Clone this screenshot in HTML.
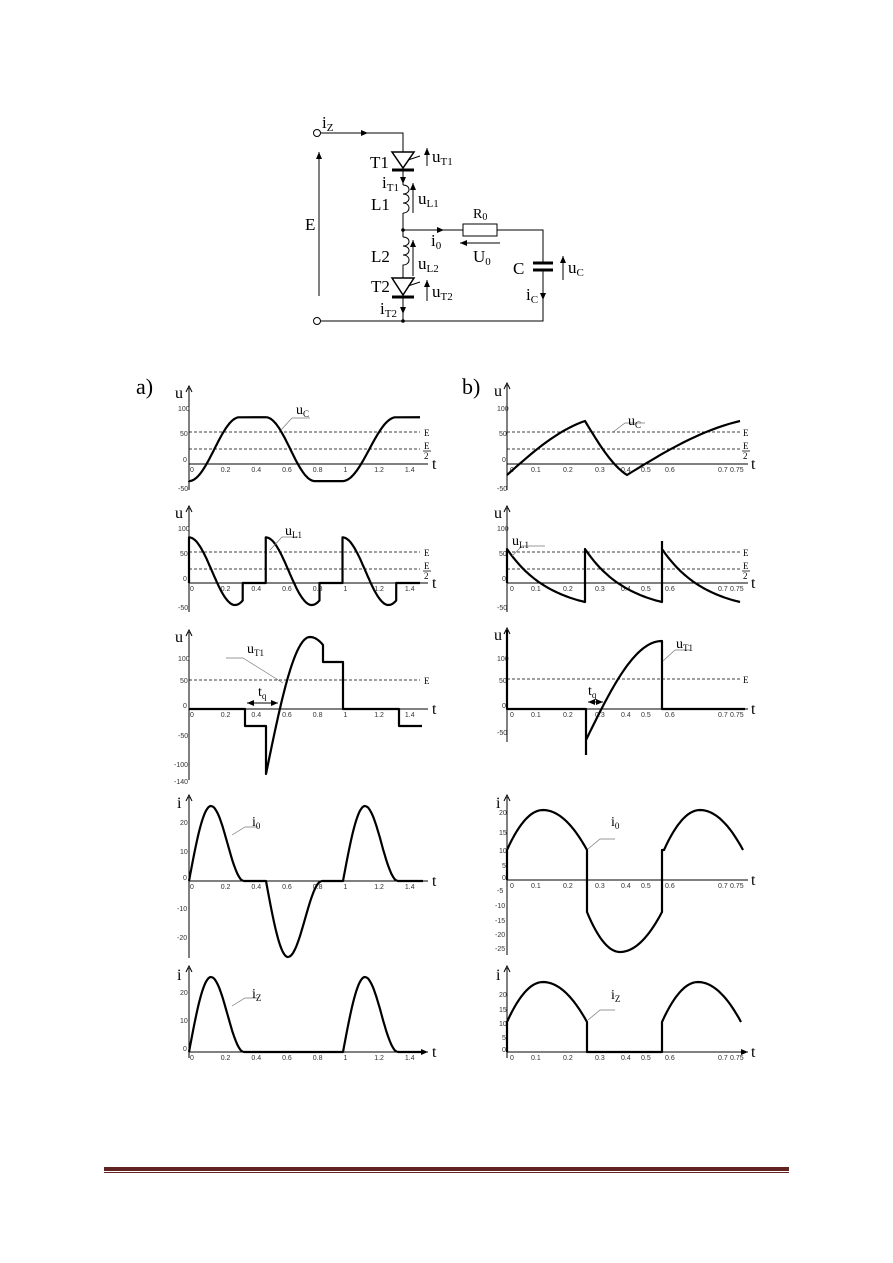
<!DOCTYPE html>
<html><head><meta charset="utf-8"><style>
html,body{margin:0;padding:0;background:#fff;}
svg{display:block;}
text{font-family:"Liberation Serif",serif;fill:#000;}
.s{font-family:"Liberation Sans",sans-serif;font-size:7px;fill:#333;}
.c{fill:none;stroke:#000;stroke-width:2.2;stroke-linejoin:round;}
.a{stroke:#000;stroke-width:1;fill:none;}
.d{stroke:#000;stroke-width:0.8;stroke-dasharray:3,2;fill:none;}
.l{stroke:#777;stroke-width:0.7;fill:none;}
</style></head><body>
<svg id="g" width="893" height="1263" viewBox="0 0 893 1263" xmlns="http://www.w3.org/2000/svg">
<defs><marker id="ar" markerWidth="8" markerHeight="8" refX="7" refY="3" orient="auto" markerUnits="userSpaceOnUse"><path d="M0,0 L7,3 L0,6 z" fill="#000"/></marker></defs>
<!-- circuit -->
<g class="a" stroke-width="1.2">
<circle cx="317" cy="133" r="3.5" fill="#fff"/>
<circle cx="317" cy="321" r="3.5" fill="#fff"/>
<path d="M321,133 H403 V152 M403,170 V185 M403,213 V237 M403,272 V278 M403,297 V321 M321,321 H543 V270 M543,263 V230 H497 M463,230 H403"/>
<path d="M403,185 c8,0 8,9 0,9 c8,0 8,9 0,9 c8,0 8,10 0,10" />
<path d="M403,237 c8,0 8,9 0,9 c8,0 8,9 0,9 c8,0 8,10 0,10 V272" />
<path d="M392,152 H414 L403,168 Z" stroke-width="1.5"/>
<path d="M408,160 L420,156"/>
<path d="M392,278 H414 L403,295 Z" stroke-width="1.5"/>
<path d="M408,286 L420,282"/>
<rect x="463" y="224" width="34" height="12"/>
</g>
<path d="M392,170 H414 M392,297 H414 M533,263 H553 M533,270 H553" stroke="#000" stroke-width="3"/>
<circle cx="403" cy="230" r="1.8"/><circle cx="403" cy="321" r="1.8"/>
<g class="a">
<path d="M355,133 H368" marker-end="url(#ar)"/>
<path d="M403,176 V184" marker-end="url(#ar)"/>
<path d="M403,306 V314" marker-end="url(#ar)"/>
<path d="M430,230 H444" marker-end="url(#ar)"/>
<path d="M543,290 V300" marker-end="url(#ar)"/>
<path d="M500,243 H460" marker-end="url(#ar)"/>
<path d="M319,296 V152" marker-end="url(#ar)"/>
<path d="M427,166 V148" marker-end="url(#ar)"/>
<path d="M413,213 V183" marker-end="url(#ar)"/>
<path d="M413,276 V240" marker-end="url(#ar)"/>
<path d="M427,301 V280" marker-end="url(#ar)"/>
<path d="M563,280 V256" marker-end="url(#ar)"/>
</g>
<g font-size="17">
<text x="322" y="128">i<tspan font-size="11" dy="3">Z</tspan></text>
<text x="370" y="168">T1</text>
<text x="432" y="162">u<tspan font-size="11" dy="3">T1</tspan></text>
<text x="382" y="188">i<tspan font-size="11" dy="3">T1</tspan></text>
<text x="371" y="210">L1</text>
<text x="418" y="204">u<tspan font-size="11" dy="3">L1</tspan></text>
<text x="473" y="218" font-size="14">R<tspan font-size="10" dy="2">0</tspan></text>
<text x="431" y="246">i<tspan font-size="11" dy="3">0</tspan></text>
<text x="473" y="262">U<tspan font-size="11" dy="3">0</tspan></text>
<text x="305" y="230">E</text>
<text x="371" y="262">L2</text>
<text x="418" y="269">u<tspan font-size="11" dy="3">L2</tspan></text>
<text x="513" y="274">C</text>
<text x="568" y="273">u<tspan font-size="11" dy="3">C</tspan></text>
<text x="371" y="292">T2</text>
<text x="432" y="297">u<tspan font-size="11" dy="3">T2</tspan></text>
<text x="526" y="300">i<tspan font-size="11" dy="3">C</tspan></text>
<text x="380" y="314">i<tspan font-size="11" dy="3">T2</tspan></text>
</g>
<text x="136" y="394" font-size="22">a)</text>
<text x="462" y="394" font-size="22">b)</text>
<!-- axes -->
<g class="a">
<path d="M189,490 V388 M189,612 V508 M189,780 V632 M189,958 V797 M189,1058 V968"/>
<path d="M507,490 V385 M507,612 V508 M507,742 V630 M507,955 V797 M507,1058 V968"/>
<path d="M189,464 H428 M189,583 H428 M189,709 H428 M189,881 H428 M189,1052 H428" marker-end="url(#ar)"/>
<path d="M507,464 H748 M507,583 H748 M507,709 H748 M507,880 H748 M507,1052 H748" marker-end="url(#ar)"/>
<path d="M186,392 L189,386 L192,392 M186,512 L189,506 L192,512 M186,636 L189,630 L192,636 M186,801 L189,795 L192,801 M186,972 L189,966 L192,972"/>
<path d="M504,389 L507,383 L510,389 M504,512 L507,506 L510,512 M504,634 L507,628 L510,634 M504,801 L507,795 L510,801 M504,972 L507,966 L510,972"/>
</g>
<g font-size="16">
<text x="432" y="469">t</text><text x="432" y="588">t</text><text x="432" y="714">t</text><text x="432" y="886">t</text><text x="432" y="1057">t</text>
<text x="751" y="469">t</text><text x="751" y="588">t</text><text x="751" y="714">t</text><text x="751" y="885">t</text><text x="751" y="1057">t</text>
<text x="175" y="398">u</text><text x="175" y="518">u</text><text x="175" y="642">u</text><text x="177" y="808">i</text><text x="177" y="980">i</text>
<text x="494" y="396">u</text><text x="494" y="518">u</text><text x="494" y="640">u</text><text x="496" y="808">i</text><text x="496" y="980">i</text>
</g>
<g class="d">
<path d="M189,432 H420 M189,449 H420 M189,552 H420 M189,569 H420 M189,680 H420"/>
<path d="M507,432 H740 M507,449 H740 M507,552 H740 M507,569 H740 M507,679 H740"/>
</g>
<g font-size="9">
<text x="424" y="436">E</text><text x="424" y="556">E</text><text x="424" y="684">E</text>
<text x="743" y="436">E</text><text x="743" y="556">E</text><text x="743" y="683">E</text>
<text x="424" y="449">E</text><text x="424" y="459">2</text><text x="424" y="569">E</text><text x="424" y="579">2</text>
<text x="743" y="449">E</text><text x="743" y="459">2</text><text x="743" y="569">E</text><text x="743" y="579">2</text>
</g>
<path d="M423,451 H431 M423,571 H431 M742,451 H750 M742,571 H750" stroke="#000" stroke-width="0.7"/>
<g id="ticks" class="s"></g>
<g id="curves"></g>
<g class="l">
<path d="M281,430 L292,418 H310 M270,550 L282,537 H298 M243,658 L283,683 M243,658 H226 M232,835 L245,827 H258 M232,1006 L245,998 H258"/>
<path d="M613,432 L625,423 H645 M512,556 L522,546 H545 M663,661 L675,650 H690 M588,849 L600,839 H615 M588,1020 L600,1010 H615"/>
</g>
<g class="a"><path d="M250,703 H278" marker-end="url(#ar)"/><path d="M275,703 H247" marker-end="url(#ar)"/>
<path d="M590,702 H603" marker-end="url(#ar)"/><path d="M600,702 H588" marker-end="url(#ar)"/></g>
<g font-size="14">
<text x="296" y="414">u<tspan font-size="9" dy="3">C</tspan></text>
<text x="285" y="535">u<tspan font-size="9" dy="3">L1</tspan></text>
<text x="247" y="653">u<tspan font-size="9" dy="3">T1</tspan></text>
<text x="258" y="696">t<tspan font-size="9" dy="3">q</tspan></text>
<text x="252" y="826">i<tspan font-size="9" dy="3">0</tspan></text>
<text x="252" y="998">i<tspan font-size="9" dy="3">Z</tspan></text>
<text x="628" y="425">u<tspan font-size="9" dy="3">C</tspan></text>
<text x="512" y="545">u<tspan font-size="9" dy="3">L1</tspan></text>
<text x="676" y="648">u<tspan font-size="9" dy="3">T1</tspan></text>
<text x="588" y="695">t<tspan font-size="9" dy="3">q</tspan></text>
<text x="611" y="826">i<tspan font-size="9" dy="3">0</tspan></text>
<text x="611" y="999">i<tspan font-size="9" dy="3">Z</tspan></text>
</g>
<rect x="104" y="1167" width="685" height="4" fill="#622423"/>
<rect x="104" y="1172" width="685" height="1" fill="#622423"/>
</svg>
<script>
(function(){
var NS="http://www.w3.org/2000/svg",cg=document.getElementById("curves"),tg=document.getElementById("ticks");
function path(d){var p=document.createElementNS(NS,"path");p.setAttribute("d",d);p.setAttribute("class","c");cg.appendChild(p);}
function txt(x,y,s){var t=document.createElementNS(NS,"text");t.setAttribute("x",x);t.setAttribute("y",y);t.setAttribute("class","s");t.textContent=s;tg.appendChild(t);}
function fn(x0,x1,f,n){var s="";n=n||40;for(var i=0;i<=n;i++){var x=x0+(x1-x0)*i/n;s+=" L"+x.toFixed(1)+","+f(x).toFixed(1);}return s;}
function X(t){return 189+153.5*t;}
// a1
var y0=464,k=0.55,lo=-31,hi=85;
function rise(a,b){return function(x){var s=(x-a)/(b-a);return y0-k*(lo+(hi-lo)*(1-Math.cos(Math.PI*s))/2);};}
function fall(a,b){return function(x){var s=(x-a)/(b-a);return y0-k*(hi-(hi-lo)*(1-Math.cos(Math.PI*s))/2);};}
var yH=y0-k*hi,yL=y0-k*lo;
path("M189,"+yL+fn(189,X(0.33),rise(189,X(0.33)))+" L"+X(0.5)+","+yH+fn(X(0.5),X(0.82),fall(X(0.5),X(0.82)))+" L"+X(1)+","+yL+fn(X(1),X(1.35),rise(X(1),X(1.35)))+" L420,"+yH);
// a2
y0=583;var d="M189,583";
[0,0.5,1].forEach(function(t0){var xa=X(t0);d+=" L"+xa+","+(y0-k*83);
 d+=fn(xa,X(t0+0.35),function(x){var tau=(x-xa)/153.5;return y0-k*(21.5+61.5*Math.cos(Math.PI*tau/0.3));});
 d+=" L"+X(t0+0.35)+",583 L"+(t0<1?X(t0+0.5):420)+",583";});
path(d);
// a3
d="M189,709 L245,709 L245,726 L266,726 L266,774"+fn(266,310,function(x){var s=(x-266)/44;return 774-137*Math.sin(Math.PI/2*s);})+fn(310,323,function(x){var s=(x-310)/13;return 637+8*s*s;},8)+" L323,662 L343,662 L343,709 L399,709 L399,726 L422,726";
path(d);
// arcs
function arc(xa,xp,xb,yb,yp,ye){return fn(xa,xp,function(x){var s=(x-xa)/(xp-xa);return yb+(yp-yb)*Math.sin(Math.PI/2*s);},20)+fn(xp,xb,function(x){var s=(x-xp)/(xb-xp);return yp+(ye-yp)*(1-Math.cos(Math.PI*s))/2;},20);}
path("M189,881"+arc(189,211,244,881,806,881)+" L266,881"+arc(266,288,322,881,957,881)+" L343,881"+arc(343,365,398,881,806,881)+" L423,881");
path("M189,1052"+arc(189,211,244,1052,977,1052)+" L343,1052"+arc(343,365,398,1052,977,1052)+" L423,1052");
// b1
function mix(xa,xb,ya,yb){return fn(xa,xb,function(x){var s=(x-xa)/(xb-xa);return ya+(yb-ya)*(0.5*s+0.5*Math.sin(Math.PI/2*s));},20);}
path("M507,475"+mix(507,585,475,421)+mix(585,627,421,475)+mix(627,740,475,421));
// b2
function dec(xa,xb){return fn(xa,xb,function(x){var s=(x-xa)/(xb-xa);return 549+53*(1-Math.exp(-1.8*s))/(1-Math.exp(-1.8));},25);}
path("M507,583 L507,549"+dec(507,585)+" L585,549"+dec(585,662)+" L662,541 M662,549"+dec(662,740));
// b3
path("M507,630 L507,709 L586,709 L586,755 M586,740"+fn(586,662,function(x){var s=(x-586)/76;return 740-99*Math.sin(Math.PI/2*s);})+" L662,709 L745,709");
// b4
function par(xa,xp,xb,ya,yp,ye){return fn(xa,xp,function(x){var s=(xp-x)/(xp-xa);return yp+(ya-yp)*s*s;},15)+fn(xp,xb,function(x){var s=(x-xp)/(xb-xp);return yp+(ye-yp)*s*s;},20);}
path("M507,880 L507,850"+par(507,543,587,850,810,850)+" L587,912"+par(587,620,662,912,952,912)+" L662,850"+par(664,700,743,850,810,850));
path("M507,1052 L507,1022"+par(507,543,587,1022,982,1022)+" L587,1052 L662,1052 L662,1022"+par(662,698,741,1022,982,1022));
// ticks
var L=["0","0.2","0.4","0.6","0.8","1","1.2","1.4"];
[472,591,717,889,1060].forEach(function(y){L.forEach(function(s,i){txt(X(i*0.2)+1,y,s);});});
var R=[[510,"0"],[531,"0.1"],[563,"0.2"],[595,"0.3"],[621,"0.4"],[641,"0.5"],[665,"0.6"],[718,"0.7"],[730,"0.75"]];
[472,591,717,888,1060].forEach(function(y){R.forEach(function(r){txt(r[0],y,r[1]);});});
var YL=[[178,411,"100"],[180,436,"50"],[183,462,"0"],[178,491,"-50"],[178,531,"100"],[180,556,"50"],[183,581,"0"],[178,610,"-50"],
[178,661,"100"],[180,683,"50"],[183,708,"0"],[178,738,"-50"],[174,767,"-100"],[174,784,"-140"],[180,825,"20"],[180,854,"10"],[183,880,"0"],[177,911,"-10"],[177,940,"-20"],
[180,995,"20"],[180,1023,"10"],[183,1051,"0"],
[497,411,"100"],[499,436,"50"],[502,462,"0"],[497,491,"-50"],[497,531,"100"],[499,556,"50"],[502,581,"0"],[497,610,"-50"],
[497,661,"100"],[499,683,"50"],[502,708,"0"],[497,735,"-50"],[499,815,"20"],[499,835,"15"],[499,853,"10"],[502,868,"5"],[502,880,"0"],[497,893,"-5"],[495,908,"-10"],[495,923,"-15"],[495,937,"-20"],[495,951,"-25"],
[499,997,"20"],[499,1012,"15"],[499,1026,"10"],[502,1040,"5"],[502,1052,"0"]];
YL.forEach(function(a){txt(a[0],a[1],a[2]);});
})();
</script>
</body></html>
